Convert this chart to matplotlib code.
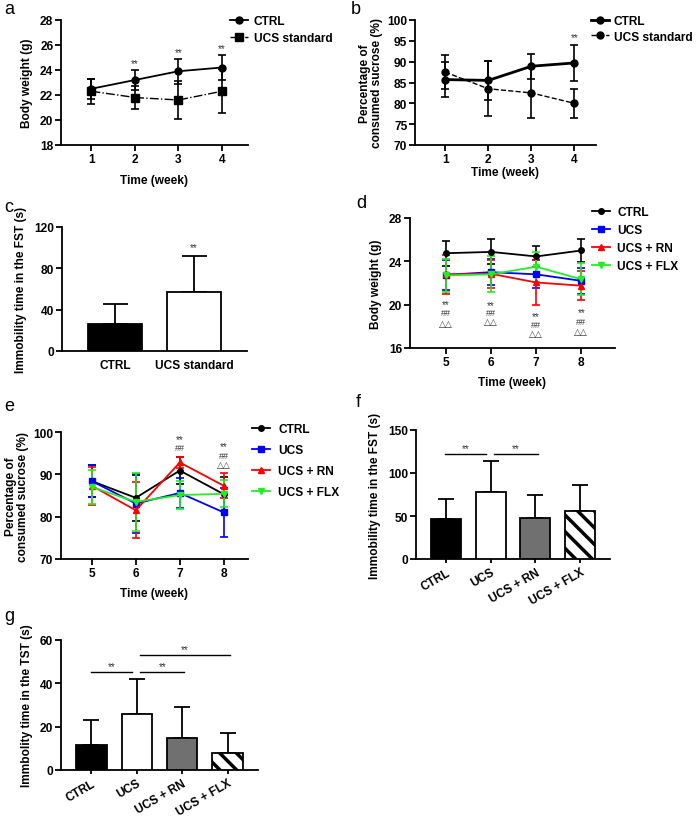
import matplotlib
matplotlib.use("Agg")
import matplotlib.pyplot as plt
import numpy as np

plt.rcParams['font.family'] = ['Liberation Sans', 'DejaVu Sans']
plt.rcParams['font.weight'] = 'bold'
plt.rcParams['axes.labelweight'] = 'bold'
plt.rcParams['hatch.linewidth'] = 2.5

# ---------------- data ----------------
weeks_ab = [1, 2, 3, 4]
ab_labels = ["CTRL", "UCS standard"]
a_ctrl_mean = [22.5, 23.2, 23.9, 24.2]
a_ctrl_sd = [0.8, 0.8, 1.0, 1.0]
a_ucs_mean = [22.3, 21.8, 21.6, 22.3]
a_ucs_sd = [1.0, 0.9, 1.5, 1.75]
a_sig = ["", "**", "**", "**"]

b_ctrl_mean = [85.7, 85.5, 88.9, 89.7]
b_ctrl_sd = [4.2, 4.6, 3.0, 4.3]
b_ucs_mean = [87.5, 83.5, 82.5, 80.0]
b_ucs_sd = [4.0, 6.6, 6.0, 3.5]
b_sig = ["", "", "", "**"]

c_groups = ["CTRL", "UCS standard"]
c_mean = [26.5, 57.5]
c_sd = [19.0, 34.5]
c_sig = ["", "**"]

weeks_de = [5, 6, 7, 8]
groups4 = ["CTRL", "UCS", "UCS + RN", "UCS + FLX"]
d_ctrl_mean = [24.75, 24.87, 24.45, 25.0]
d_ctrl_sd = [1.15, 1.15, 1.0, 1.05]
d_ucs_mean = [22.75, 23.0, 22.8, 22.2]
d_ucs_sd = [1.35, 1.2, 1.3, 1.2]
d_rn_mean = [22.8, 22.85, 22.05, 21.75]
d_rn_sd = [1.8, 1.3, 2.05, 1.35]
d_flx_mean = [22.7, 22.8, 23.5, 22.35]
d_flx_sd = [1.5, 1.65, 1.4, 1.45]
d_sig_star = [20.05, 19.97, 18.95, 19.35]
d_sig_hash = [19.24, 19.24, 18.2, 18.45]
d_sig_tri = [18.26, 18.4, 17.35, 17.5]

e_ctrl_mean = [88.4, 84.45, 90.9, 85.3]
e_ctrl_sd = [3.7, 5.4, 3.3, 4.0]
e_ucs_mean = [88.4, 83.1, 85.6, 81.0]
e_ucs_sd = [3.7, 6.9, 3.6, 5.7]
e_rn_mean = [87.3, 81.5, 92.8, 87.3]
e_rn_sd = [4.5, 6.6, 1.4, 3.0]
e_flx_mean = [87.0, 83.5, 85.1, 85.4]
e_flx_sd = [4.0, 6.9, 3.4, 3.2]
e_sig_weeks = [7, 8]
e_sig_star = [98.4, 96.6]
e_sig_hash = [96.4, 94.5]
e_sig_tri = [None, 92.3]

f_mean = [47.0, 78.0, 47.5, 56.0]
f_sd = [23.0, 36.0, 27.5, 30.0]
f_pairs = [(0, 1), (1, 2)]
f_pair_y = [122.5, 122.5]

g_mean = [11.7, 25.8, 14.6, 7.9]
g_sd = [11.5, 16.2, 14.3, 9.3]
g_pairs = [(0, 1), (1, 2), (1, 3)]
g_pair_y = [45.3, 45.4, 53.2]

# ---------------- layout helpers ----------------
W, H = 696, 820
fig = plt.figure(figsize=(W / 100, H / 100), dpi=100)

FS = 8.6      # tick / label / legend size
LBL = 8.6
SIGFS = 7.0
SIGC = '#333333'


def add_ax(left, right, top, bottom):
    return fig.add_axes([left / W, 1 - bottom / H, (right - left) / W, (bottom - top) / H])


def style(ax):
    for s in ['top', 'right']:
        ax.spines[s].set_visible(False)
    for s in ['left', 'bottom']:
        ax.spines[s].set_linewidth(1.3)
    ax.tick_params(width=1.3, length=4, labelsize=FS, pad=1.5)
    for lab in ax.get_xticklabels() + ax.get_yticklabels():
        lab.set_fontweight('bold')


def leg(ax, handles, labels, x, y, spacing, textpad=0.5):
    ax.legend([h[0] for h in handles], labels, loc='upper left', bbox_to_anchor=(x / W, 1 - y / H),
              bbox_transform=fig.transFigure, frameon=False, fontsize=FS, handlelength=1.5,
              handletextpad=textpad, labelspacing=spacing, borderaxespad=0, borderpad=0)


# ---------------- panel a ----------------
ax = add_ax(61, 248, 21, 146)
h1 = ax.errorbar(weeks_ab, a_ctrl_mean, yerr=a_ctrl_sd, color='black', marker='o', ms=5,
                 lw=1.3, capsize=3, elinewidth=1.2, capthick=1.2)
h2 = ax.errorbar(weeks_ab, a_ucs_mean, yerr=a_ucs_sd, color='black', marker='s', ms=5.5,
                 lw=1.0, ls='-.', capsize=3, elinewidth=1.2, capthick=1.2)
for x, m, s, t in zip(weeks_ab, a_ctrl_mean, a_ctrl_sd, a_sig):
    if t:
        ax.text(x, m + s + 0.15, t, ha='center', va='bottom', fontsize=SIGFS, color=SIGC, fontweight='normal')
ax.set_xlim(0.3, 4.6)
ax.set_ylim(18, 28)
ax.set_xticks(weeks_ab)
ax.set_yticks([18, 20, 22, 24, 26, 28])
ax.set_xlabel('Time (week)', fontsize=LBL, labelpad=7)
ax.set_ylabel('Body weight (g)', fontsize=LBL, labelpad=5)
style(ax)
leg(ax, [h1, h2], ab_labels, 230, 16, 0.45)

# ---------------- panel b ----------------
ax = add_ax(415, 596, 21, 146)
h1 = ax.errorbar(weeks_ab, b_ctrl_mean, yerr=b_ctrl_sd, color='black', marker='o', ms=5,
                 lw=2.0, capsize=3, elinewidth=1.2, capthick=1.2)
h2 = ax.errorbar(weeks_ab, b_ucs_mean, yerr=b_ucs_sd, color='black', marker='o', ms=5,
                 lw=1.0, ls='--', capsize=3, elinewidth=1.2, capthick=1.2)
for x, m, s, t in zip(weeks_ab, b_ctrl_mean, b_ctrl_sd, b_sig):
    if t:
        ax.text(x, m + s + 0.6, t, ha='center', va='bottom', fontsize=SIGFS, color=SIGC, fontweight='normal')
ax.set_xlim(0.3, 4.5)
ax.set_ylim(70, 100)
ax.set_xticks(weeks_ab)
ax.set_yticks([70, 75, 80, 85, 90, 95, 100])
ax.set_xlabel('Time (week)', fontsize=LBL, labelpad=1)
ax.set_ylabel('Percentage of\nconsumed sucrose (%)', fontsize=LBL, labelpad=3, linespacing=1.0)
style(ax)
leg(ax, [h1, h2], ab_labels, 591, 16, 0.3, textpad=0.4)

# ---------------- panel c ----------------
ax = add_ax(62, 247, 228, 352)
xc = np.arange(len(c_groups))
ax.bar(xc, c_mean, width=0.68, color=['black', 'white'], edgecolor='black', linewidth=1.3, zorder=3)
ax.errorbar(xc, c_mean, yerr=[np.zeros(len(c_mean)), c_sd], fmt='none', ecolor='black',
            elinewidth=1.3, capsize=9, capthick=1.3, zorder=2)
for x, m, s, t in zip(xc, c_mean, c_sd, c_sig):
    if t:
        ax.text(x, m + s + 4, t, ha='center', va='bottom', fontsize=SIGFS, color=SIGC, fontweight='normal')
ax.set_xlim(-0.67, 1.67)
ax.set_ylim(0, 120)
ax.set_yticks([0, 40, 80, 120])
ax.set_xticks(xc)
ax.set_xticklabels(c_groups)
ax.set_ylabel('Immobility time in the FST (s)', fontsize=LBL, labelpad=5)
style(ax)
ax.tick_params(axis='x', length=0, labelsize=FS, pad=6)

# ---------------- panel d ----------------
ax = add_ax(410, 615, 219, 349)
series = [(d_ctrl_mean, d_ctrl_sd, 'black', 'o'),
          (d_ucs_mean, d_ucs_sd, '#0000ff', 's'),
          (d_rn_mean, d_rn_sd, '#ff0000', '^'),
          (d_flx_mean, d_flx_sd, '#22ee22', 'v')]
hs = []
for m, s, c, mk in series:
    hs.append(ax.errorbar(weeks_de, m, yerr=s, color=c, marker=mk, ms=4, lw=1.3, capsize=3,
                          elinewidth=1.2, capthick=1.2))
for x, y1, y2, y3 in zip(weeks_de, d_sig_star, d_sig_hash, d_sig_tri):
    ax.text(x, y1, '**', ha='center', va='center', fontsize=SIGFS, color=SIGC, fontweight='normal')
    ax.text(x, y2, '##', ha='center', va='center', fontsize=SIGFS - 0.5, color=SIGC, fontweight='normal')
    ax.text(x, y3, '△△', ha='center', va='center', fontsize=SIGFS - 0.5, color=SIGC, fontweight='normal',
            family=['DejaVu Sans'])
ax.set_xlim(4.2, 8.75)
ax.set_ylim(16, 28)
ax.set_xticks(weeks_de)
ax.set_yticks([16, 20, 24, 28])
ax.set_xlabel('Time (week)', fontsize=LBL, labelpad=6)
ax.set_ylabel('Body weight (g)', fontsize=LBL, labelpad=5)
style(ax)
leg(ax, hs, groups4, 592, 207, 0.5, textpad=0.6)

# ---------------- panel e ----------------
ax = add_ax(61, 248, 433, 560)
series = [(e_ctrl_mean, e_ctrl_sd, 'black', 'o'),
          (e_ucs_mean, e_ucs_sd, '#0000ff', 's'),
          (e_rn_mean, e_rn_sd, '#ff0000', '^'),
          (e_flx_mean, e_flx_sd, '#22ee22', 'v')]
hs = []
for m, s, c, mk in series:
    hs.append(ax.errorbar(weeks_de, m, yerr=s, color=c, marker=mk, ms=4, lw=1.3, capsize=3,
                          elinewidth=1.2, capthick=1.2))
for x, y1, y2, y3 in zip(e_sig_weeks, e_sig_star, e_sig_hash, e_sig_tri):
    ax.text(x, y1, '**', ha='center', va='center', fontsize=SIGFS, color=SIGC, fontweight='normal')
    ax.text(x, y2, '##', ha='center', va='center', fontsize=SIGFS - 0.5, color=SIGC, fontweight='normal')
    if y3 is not None:
        ax.text(x, y3, '△△', ha='center', va='center', fontsize=SIGFS - 0.5, color=SIGC, fontweight='normal',
                family=['DejaVu Sans'])
ax.set_xlim(4.3, 8.55)
ax.set_ylim(70, 100)
ax.set_xticks(weeks_de)
ax.set_yticks([70, 80, 90, 100])
ax.set_xlabel('Time (week)', fontsize=LBL, labelpad=6)
ax.set_ylabel('Percentage of\nconsumed sucrose (%)', fontsize=LBL, labelpad=3, linespacing=1.0)
style(ax)
leg(ax, hs, groups4, 252, 424, 0.75, textpad=0.7)


# ---------------- bar panels f, g ----------------
def bar4(ax, mean, sd, pairs, pair_y, ymax, yticks, ylabel):
    x = np.arange(len(groups4))
    colors = ['black', 'white', '#707070', 'white']
    hatches = [None, None, None, '\\\\']
    bars = ax.bar(x, mean, width=0.67, color=colors, edgecolor='black', linewidth=1.3, zorder=3)
    for b, h in zip(bars, hatches):
        if h:
            b.set_hatch(h)
    ax.errorbar(x, mean, yerr=[np.zeros(len(mean)), sd], fmt='none', ecolor='black',
                elinewidth=1.3, capsize=5.5, capthick=1.3, zorder=2)
    for (i, j), y in zip(pairs, pair_y):
        x0 = i + (0.07 if i == 1 else -0.02)
        x1 = j - (0.1 if j == 1 else -0.05)
        ax.plot([x0, x1], [y, y], color='black', lw=1.0)
        ax.text((x0 + x1) / 2, y + ymax * 0.005, '**', ha='center', va='bottom', fontsize=SIGFS,
                color=SIGC, fontweight='normal')
    ax.set_xlim(-0.67, 3.67)
    ax.set_ylim(0, ymax)
    ax.set_yticks(yticks)
    ax.set_xticks(x)
    ax.set_xticklabels(groups4, rotation=30, ha='right', rotation_mode='anchor')
    ax.set_ylabel(ylabel, fontsize=LBL, labelpad=5)
    style(ax)
    ax.tick_params(axis='x', length=3, pad=2)


ax = add_ax(416, 610, 431, 560)
bar4(ax, f_mean, f_sd, f_pairs, f_pair_y, 150, [0, 50, 100, 150], 'Immobility time in the FST (s)')

ax = add_ax(61, 258, 641, 771)
bar4(ax, g_mean, g_sd, g_pairs, g_pair_y, 60, [0, 20, 40, 60], 'Immbolity time in the TST (s)')

# ---------------- panel letters ----------------
for lab, x, y in [('a', 4, 10), ('b', 351, 10), ('c', 4, 207), ('d', 356, 203),
                  ('e', 4, 407), ('f', 356, 403), ('g', 4, 617)]:
    fig.text(x / W, 1 - y / H, lab, fontsize=13, fontweight='normal', ha='left', va='center')

fig.savefig('out.png', dpi=100)
